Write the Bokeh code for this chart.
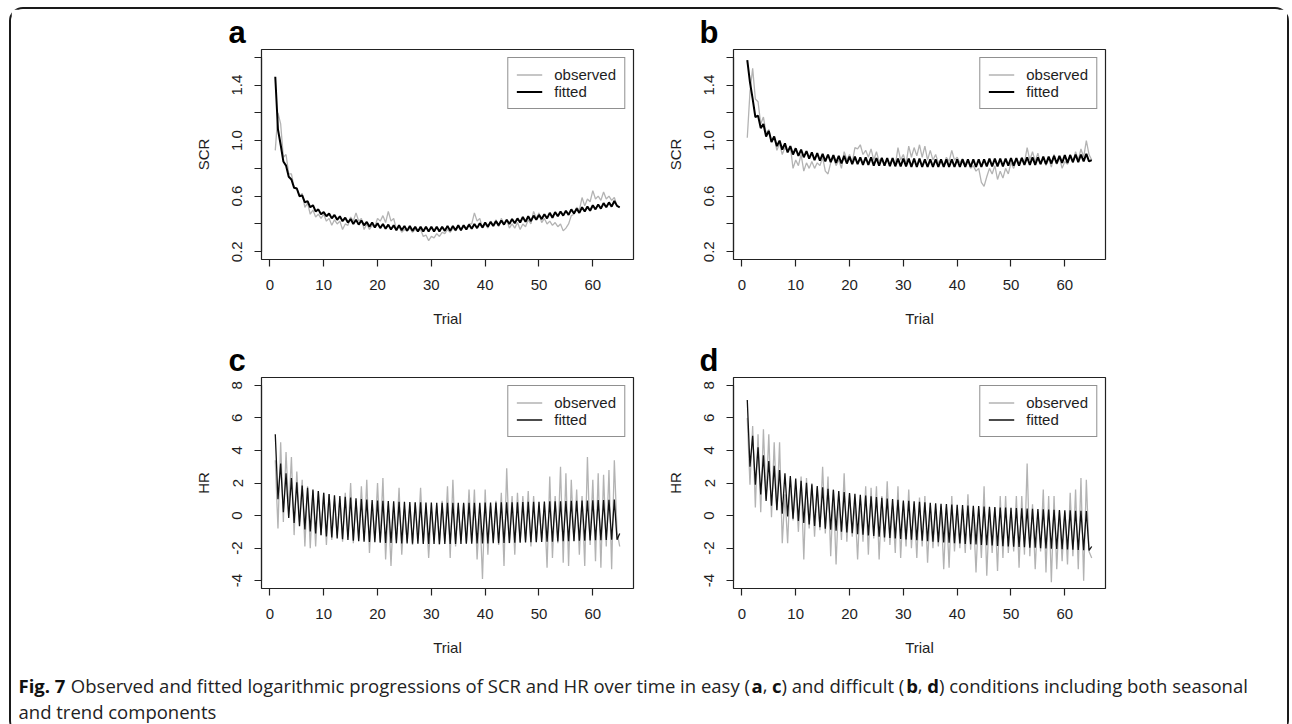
from bokeh.plotting import figure
from bokeh.models import Range1d, FixedTicker, Legend, LegendItem, ColumnDataSource
from bokeh.layouts import row, column
from bokeh.embed import file_html
from bokeh.resources import INLINE
from bokeh.core.properties import value

# ---------------- data ----------------
# samples every half trial: values at whole trials and at half trials
trial_steps = [1 + i * 0.5 for i in range(129)]
x_ticks = [0, 10, 20, 30, 40, 50, 60]
scr_ticks = [0.2, 0.4, 0.6, 0.8, 1.0, 1.2, 1.4, 1.6]
scr_tick_labels = {0.2: "0.2", 0.4: "", 0.6: "0.6", 0.8: "", 1.0: "1.0", 1.2: "", 1.4: "1.4", 1.6: ""}
hr_ticks = [-4, -2, 0, 2, 4, 6, 8]
hr_tick_labels = {-4: "-4", -2: "-2", 0: "0", 2: "2", 4: "4", 6: "6", 8: "8"}

# panel a (SCR, easy)
a_fit_whole = [1.46, 0.97, 0.82, 0.72, 0.655, 0.605, 0.565, 0.535, 0.505, 0.485,
               0.475, 0.465, 0.455, 0.445, 0.435, 0.43, 0.425, 0.415, 0.41, 0.405,
               0.40, 0.395, 0.39, 0.39, 0.385, 0.385, 0.38, 0.38, 0.38, 0.38,
               0.38, 0.38, 0.385, 0.385, 0.39, 0.39, 0.395, 0.40, 0.405, 0.41,
               0.415, 0.42, 0.425, 0.43, 0.435, 0.44, 0.45, 0.455, 0.46, 0.465,
               0.47, 0.48, 0.485, 0.49, 0.495, 0.505, 0.51, 0.52, 0.525, 0.535,
               0.54, 0.55, 0.555, 0.565, 0.52]
a_fit_half = [1.08, 0.85, 0.74, 0.66, 0.60, 0.555, 0.52, 0.49, 0.47, 0.455,
              0.44, 0.43, 0.42, 0.41, 0.40, 0.395, 0.39, 0.38, 0.375, 0.37,
              0.365, 0.36, 0.355, 0.355, 0.35, 0.35, 0.345, 0.345, 0.345, 0.345,
              0.345, 0.35, 0.35, 0.355, 0.355, 0.36, 0.365, 0.37, 0.375, 0.38,
              0.385, 0.39, 0.395, 0.40, 0.405, 0.41, 0.415, 0.42, 0.43, 0.435,
              0.44, 0.445, 0.455, 0.46, 0.465, 0.475, 0.48, 0.49, 0.495, 0.505,
              0.51, 0.52, 0.525, 0.53]
a_obs_whole = [0.93, 1.12, 0.90, 0.76, 0.66, 0.62, 0.55, 0.50, 0.47, 0.47,
               0.44, 0.43, 0.42, 0.40, 0.45, 0.48, 0.44, 0.40, 0.39, 0.44,
               0.46, 0.49, 0.44, 0.38, 0.36, 0.37, 0.36, 0.36, 0.32, 0.31,
               0.33, 0.34, 0.36, 0.37, 0.38, 0.39, 0.40, 0.48, 0.44, 0.40,
               0.42, 0.43, 0.44, 0.43, 0.40, 0.41, 0.40, 0.43, 0.49, 0.48,
               0.44, 0.42, 0.41, 0.40, 0.37, 0.46, 0.52, 0.59, 0.58, 0.64,
               0.60, 0.63, 0.60, 0.59, 0.52]
a_obs_half = [1.20, 0.88, 0.76, 0.66, 0.60, 0.52, 0.47, 0.45, 0.44, 0.42,
              0.39, 0.40, 0.36, 0.39, 0.42, 0.42, 0.36, 0.36, 0.38, 0.42,
              0.41, 0.42, 0.36, 0.34, 0.35, 0.34, 0.35, 0.31, 0.28, 0.30,
              0.31, 0.33, 0.34, 0.35, 0.36, 0.37, 0.40, 0.42, 0.37, 0.37,
              0.39, 0.38, 0.40, 0.37, 0.37, 0.36, 0.38, 0.40, 0.44, 0.41,
              0.40, 0.39, 0.38, 0.35, 0.40, 0.47, 0.50, 0.53, 0.56, 0.58,
              0.57, 0.58, 0.57, 0.53]

# panel b (SCR, difficult)
b_fit_whole = [1.58, 1.30, 1.18, 1.12, 1.07, 1.03, 1.00, 0.98, 0.96, 0.945,
               0.935, 0.925, 0.915, 0.91, 0.905, 0.90, 0.895, 0.89, 0.89, 0.885,
               0.885, 0.88, 0.88, 0.88, 0.875, 0.875, 0.875, 0.875, 0.87, 0.87,
               0.87, 0.87, 0.87, 0.865, 0.865, 0.865, 0.865, 0.865, 0.865, 0.865,
               0.865, 0.865, 0.865, 0.865, 0.865, 0.87, 0.87, 0.87, 0.87, 0.875,
               0.875, 0.875, 0.88, 0.88, 0.88, 0.885, 0.885, 0.89, 0.89, 0.895,
               0.895, 0.90, 0.90, 0.905, 0.86]
b_fit_half = [1.42, 1.17, 1.09, 1.03, 0.99, 0.96, 0.935, 0.915, 0.90, 0.89,
              0.88, 0.87, 0.86, 0.855, 0.85, 0.845, 0.84, 0.835, 0.835, 0.83,
              0.83, 0.825, 0.825, 0.82, 0.82, 0.82, 0.815, 0.815, 0.815, 0.815,
              0.81, 0.81, 0.81, 0.81, 0.81, 0.81, 0.81, 0.81, 0.81, 0.81,
              0.81, 0.81, 0.81, 0.81, 0.815, 0.815, 0.815, 0.815, 0.82, 0.82,
              0.82, 0.825, 0.825, 0.825, 0.83, 0.83, 0.835, 0.835, 0.84, 0.84,
              0.845, 0.845, 0.85, 0.85]
b_obs_whole = [1.02, 1.52, 1.28, 1.17, 1.08, 1.03, 0.98, 0.95, 0.96, 0.86,
               0.90, 0.84, 0.85, 0.84, 0.88, 0.76, 0.88, 0.86, 0.92, 0.90,
               0.95, 0.97, 0.93, 0.94, 0.92, 0.88, 0.86, 0.87, 0.95, 0.90,
               0.96, 0.95, 0.97, 0.96, 0.93, 0.90, 0.86, 0.88, 0.93, 0.88,
               0.87, 0.86, 0.82, 0.80, 0.67, 0.80, 0.82, 0.78, 0.80, 0.84,
               0.86, 0.88, 0.95, 0.92, 0.91, 0.88, 0.87, 0.90, 0.88, 0.85,
               0.90, 0.92, 0.94, 1.00, 0.86]
b_obs_half = [1.35, 1.30, 1.12, 1.05, 0.99, 0.93, 0.90, 0.92, 0.80, 0.82,
              0.78, 0.80, 0.80, 0.82, 0.78, 0.84, 0.82, 0.80, 0.86, 0.84,
              0.94, 0.90, 0.88, 0.86, 0.85, 0.82, 0.83, 0.82, 0.86, 0.83,
              0.88, 0.89, 0.88, 0.86, 0.86, 0.84, 0.82, 0.85, 0.86, 0.84,
              0.83, 0.80, 0.78, 0.70, 0.74, 0.76, 0.72, 0.73, 0.76, 0.80,
              0.82, 0.84, 0.86, 0.85, 0.83, 0.82, 0.81, 0.83, 0.80, 0.83,
              0.84, 0.86, 0.88, 0.90]

# panel c (HR, easy)
c_fit_whole = [5.0, 3.2, 2.6, 2.3, 2.05, 1.85, 1.7, 1.6, 1.5, 1.4,
               1.32, 1.25, 1.2, 1.15, 1.1, 1.06, 1.02, 0.99, 0.96, 0.93,
               0.91, 0.89, 0.87, 0.85, 0.84, 0.83, 0.82, 0.81, 0.8, 0.8,
               0.79, 0.79, 0.79, 0.79, 0.79, 0.79, 0.79, 0.79, 0.79, 0.8,
               0.8, 0.8, 0.81, 0.81, 0.82, 0.82, 0.83, 0.84, 0.84, 0.85,
               0.86, 0.87, 0.88, 0.88, 0.89, 0.9, 0.91, 0.92, 0.93, 0.94,
               0.95, 0.96, 0.97, 0.98, -1.1]
c_fit_half = [1.0, 0.2, -0.15, -0.45, -0.65, -0.85, -0.98, -1.1, -1.2, -1.28,
              -1.35, -1.4, -1.45, -1.5, -1.54, -1.57, -1.6, -1.62, -1.64, -1.66,
              -1.68, -1.69, -1.7, -1.71, -1.72, -1.73, -1.73, -1.74, -1.74, -1.74,
              -1.74, -1.74, -1.74, -1.74, -1.74, -1.73, -1.73, -1.72, -1.72, -1.71,
              -1.7, -1.7, -1.69, -1.68, -1.67, -1.66, -1.65, -1.64, -1.63, -1.62,
              -1.61, -1.6, -1.59, -1.58, -1.57, -1.56, -1.55, -1.54, -1.53, -1.52,
              -1.51, -1.5, -1.49, -1.48]
c_obs_whole = [3.4, 4.5, 3.9, 3.6, 2.7, 2.2, 1.8, 1.5, 1.5, 1.4,
               1.3, 0.9, 1.0, 1.4, 2.0, 0.9, 1.8, 2.2, 0.7, 2.0,
               2.3, 0.6, 0.5, 1.7, 0.4, 0.6, 0.8, 1.7, 0.5, 0.3,
               0.6, 0.9, 1.8, 2.2, 0.5, 0.7, 1.6, 1.6, 0.4, 1.6,
               0.6, 0.9, 1.4, 2.9, 1.2, 1.4, 1.2, 1.5, 1.2, 0.5,
               0.7, 2.4, 1.2, 3.0, 2.6, 2.2, 1.6, 1.2, 3.6, 2.2,
               2.6, 2.5, 2.8, 3.4, -1.9]
c_obs_half = [-0.8, -0.4, 0.3, -1.2, -0.4, -1.9, -2.0, -1.9, -1.2, -1.8,
              -1.5, -1.2, -1.6, -1.3, -1.7, -1.4, -1.5, -2.3, -1.4, -1.6,
              -2.7, -3.1, -1.5, -2.4, -1.6, -1.8, -1.4, -1.7, -2.6, -1.5,
              -1.8, -1.6, -2.6, -1.9, -1.5, -1.7, -1.6, -2.7, -3.9, -2.4,
              -1.6, -1.8, -3.1, -1.7, -2.4, -1.6, -1.5, -1.9, -1.6, -1.4,
              -3.2, -2.6, -1.7, -2.9, -3.1, -1.6, -2.4, -3.1, -1.8, -2.8,
              -3.2, -1.9, -3.3, -1.0]

# panel d (HR, difficult)
d_fit_whole = [7.1, 4.9, 4.2, 3.7, 3.35, 3.05, 2.8, 2.6, 2.42, 2.27,
               2.14, 2.02, 1.92, 1.82, 1.73, 1.65, 1.58, 1.51, 1.45, 1.39,
               1.33, 1.28, 1.23, 1.18, 1.13, 1.09, 1.05, 1.01, 0.97, 0.93,
               0.9, 0.87, 0.84, 0.81, 0.78, 0.75, 0.73, 0.7, 0.68, 0.66,
               0.64, 0.62, 0.6, 0.58, 0.56, 0.54, 0.52, 0.5, 0.49, 0.47,
               0.46, 0.44, 0.43, 0.41, 0.4, 0.38, 0.37, 0.36, 0.34, 0.33,
               0.32, 0.3, 0.29, 0.28, -1.9]
d_fit_half = [3.0, 1.9, 1.3, 0.9, 0.6, 0.35, 0.12, -0.05, -0.2, -0.33,
              -0.45, -0.55, -0.64, -0.72, -0.8, -0.87, -0.93, -0.99, -1.04, -1.09,
              -1.14, -1.18, -1.22, -1.26, -1.3, -1.34, -1.37, -1.4, -1.43, -1.46,
              -1.49, -1.52, -1.55, -1.58, -1.6, -1.63, -1.65, -1.67, -1.7, -1.72,
              -1.74, -1.76, -1.78, -1.8, -1.82, -1.84, -1.86, -1.88, -1.9, -1.92,
              -1.93, -1.95, -1.97, -1.98, -2.0, -2.02, -2.03, -2.05, -2.07, -2.08,
              -2.1, -2.11, -2.13, -2.14]
d_obs_whole = [6.0, 5.5, 5.0, 5.3, 5.0, 4.5, 4.5, 1.3, 2.3, 1.8,
               2.4, 2.3, 2.0, 1.7, 3.0, 2.4, 1.6, 1.2, 2.6, 1.3,
               0.8, 1.0, 1.8, 1.7, 1.8, 1.2, 2.1, 0.6, 1.8, 0.8,
               1.6, 0.7, 1.1, 1.2, 0.5, 0.4, 0.6, 0.5, 1.2, 0.3,
               0.4, 1.3, 0.3, 0.4, 1.8, 0.4, 0.5, 1.2, 1.2, 0.3,
               1.2, 1.2, 3.2, 0.7, 0.2, 1.6, 1.2, 1.2, 0.3, 0.2,
               1.4, 1.6, 2.3, 2.2, -2.6]
d_obs_half = [1.9, 0.5, 0.2, 1.0, -0.1, 0.3, -1.7, -1.7, -0.3, -1.0,
              -2.7, -0.8, -1.3, -0.9, -1.1, -2.5, -3.0, -1.5, -1.6, -1.3,
              -2.7, -1.6, -2.4, -1.4, -2.7, -1.6, -1.8, -2.3, -2.6, -1.9,
              -2.0, -2.6, -1.9, -2.9, -2.0, -1.9, -3.3, -3.2, -2.2, -2.0,
              -2.3, -2.1, -3.5, -2.6, -3.7, -2.3, -3.4, -2.6, -2.3, -2.2,
              -3.2, -2.4, -2.5, -3.3, -2.2, -3.5, -4.1, -3.3, -2.8, -3.0,
              -2.5, -3.3, -4.0, -2.2]

caption_bold = ["Fig. 7", "a", "c", "b", "d"]
caption_normal = ["Observed and fitted logarithmic progressions of SCR and HR over time in easy (",
                  ",", ") and difficult (", ",", ") conditions including both seasonal"]
caption_line2 = "and trend components"

# ---------------- styling ----------------
FONT = "Liberation Sans"
TXT = "#1e1e1e"
OBS_COL = "#b3b3b3"
FRAME_W = 372


def interleave(whole, half):
    out = []
    for i, v in enumerate(whole):
        out.append(v)
        if i < len(half):
            out.append(half[i])
    return out


def panel(letter, obs, fit, ylabel, yticks, ylabels, left, right, top, bottom, frame_h,
          fit_w, fit_col, lab_dx):
    span = yticks[-1] - yticks[0]
    xspan = 65 - 1
    p = figure(width=left + FRAME_W + right, height=top + frame_h + bottom,
               x_range=Range1d(1 - 0.04 * xspan, 65 + 0.04 * xspan),
               y_range=Range1d(yticks[0] - 0.04 * span, yticks[-1] + 0.04 * span),
               output_backend="svg", toolbar_location=None,
               min_border_left=left, min_border_right=right,
               min_border_top=top, min_border_bottom=bottom)
    p.grid.visible = False
    p.outline_line_color = "#222222"
    p.outline_line_width = 1.2
    p.background_fill_color = "white"
    p.border_fill_color = "white"

    # panel letter as the figure title, pulled left of the frame
    p.title.text = letter
    p.title.align = "left"
    p.title.offset = lab_dx
    p.title.standoff = 0
    p.title.vertical_align = "bottom"
    p.title.text_font = FONT
    p.title.text_font_size = "31px"
    p.title.text_font_style = "bold"
    p.title.text_color = "#000000"

    src = ColumnDataSource(dict(t=trial_steps, obs=obs, fit=fit))
    r_obs = p.line("t", "obs", source=src, line_color=OBS_COL, line_width=1.3)
    r_fit = p.line("t", "fit", source=src, line_color=fit_col, line_width=fit_w)

    for ax in (p.xaxis[0], p.yaxis[0]):
        ax.axis_line_color = "#222222"
        ax.axis_line_width = 1.2
        ax.major_tick_line_color = "#222222"
        ax.major_tick_line_width = 1.2
        ax.major_tick_out = 7
        ax.major_tick_in = 0
        ax.minor_tick_line_color = None
        ax.major_label_text_font = FONT
        ax.major_label_text_font_size = "15px"
        ax.major_label_text_color = TXT
        ax.axis_label_text_font = FONT
        ax.axis_label_text_font_size = "15px"
        ax.axis_label_text_font_style = "normal"
        ax.axis_label_text_color = TXT

    p.xaxis.ticker = FixedTicker(ticks=x_ticks)
    p.xaxis.bounds = (x_ticks[0], x_ticks[-1])
    p.xaxis.axis_label = "Trial"
    p.xaxis.major_label_standoff = 13
    p.xaxis.axis_label_standoff = 17

    p.yaxis.ticker = FixedTicker(ticks=yticks)
    p.yaxis.bounds = (yticks[0], yticks[-1])
    p.yaxis.major_label_overrides = ylabels
    p.yaxis.major_label_orientation = "vertical"
    p.yaxis.axis_label = ylabel
    p.yaxis.major_label_standoff = 12
    p.yaxis.axis_label_standoff = 18

    leg = Legend(items=[LegendItem(label="observed", renderers=[r_obs]),
                        LegendItem(label="fitted", renderers=[r_fit])],
                 location="top_right", margin=8, padding=8, spacing=0,
                 glyph_width=26, glyph_height=17, label_height=17, label_standoff=12,
                 label_text_font=FONT, label_text_font_size="15px", label_text_color=TXT,
                 border_line_color="#222222", border_line_width=1.2,
                 background_fill_color="white", background_fill_alpha=1.0)
    p.add_layout(leg)
    return p


pa = panel("a", interleave(a_obs_whole, a_obs_half), interleave(a_fit_whole, a_fit_half), "SCR",
           scr_ticks, scr_tick_labels, 250, 27, 40, 81, 210, 2.0, "#000000", -33)
pb = panel("b", interleave(b_obs_whole, b_obs_half), interleave(b_fit_whole, b_fit_half), "SCR",
           scr_ticks, scr_tick_labels, 73, 182, 40, 81, 210, 2.0, "#000000", -34)
pc = panel("c", interleave(c_obs_whole, c_obs_half), interleave(c_fit_whole, c_fit_half), "HR",
           hr_ticks, hr_tick_labels, 250, 27, 37, 80, 211, 1.3, "#111111", -33)
pd = panel("d", interleave(d_obs_whole, d_obs_half), interleave(d_fit_whole, d_fit_half), "HR",
           hr_ticks, hr_tick_labels, 73, 182, 37, 80, 211, 1.3, "#111111", -34)

# ---------------- caption ----------------
CW, CH = 1276, 64
FS = 18.5
cap = figure(width=CW, height=CH, x_range=Range1d(0, CW), y_range=Range1d(0, CH),
             output_backend="svg", toolbar_location=None, min_border=0,
             x_axis_type=None, y_axis_type=None, outline_line_color=None)
cap.grid.visible = False
x0 = 7
bold_em = [0.0, 39.627, 40.732, 47.98, 49.12]
normal_em = [2.831, 40.228, 41.242, 48.614, 49.755]
cap.text(x=[x0 + e * FS for e in bold_em], y=[47] * 5, text=caption_bold,
         text_font=value("Open Sans"), text_font_size=value(f"{FS}px"), text_font_style="bold",
         text_color="#111111", text_baseline="middle", text_align="left")
cap.text(x=[x0 + e * FS for e in normal_em], y=[47] * 5, text=caption_normal,
         text_font=value("Open Sans"), text_font_size=value(f"{FS}px"),
         text_color="#222222", text_baseline="middle", text_align="left")
cap.text(x=[x0], y=[21], text=[caption_line2],
         text_font=value("Open Sans"), text_font_size=value(f"{FS}px"),
         text_color="#222222", text_baseline="middle", text_align="left")

layout = column(row(pa, pb), row(pc, pd), cap, margin=(7, 0, 0, 9),
                styles={"border": "2px solid #1a1a1a", "border-radius": "14px"})

open("out.html", "w").write(file_html(layout, INLINE))
